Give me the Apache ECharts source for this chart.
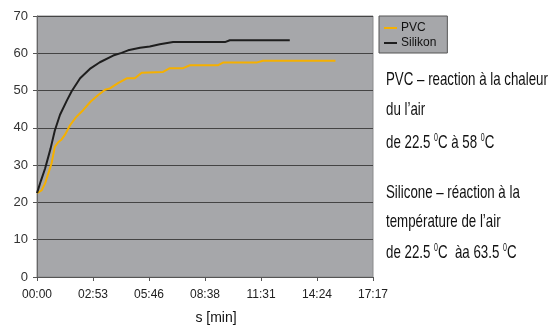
<!DOCTYPE html>
<html>
<head>
<meta charset="utf-8">
<script src="https://cdn.jsdelivr.net/npm/echarts@6/dist/echarts.min.js"></script>
<style>
  html, body { margin: 0; padding: 0; background: #fff; }
  #chart { width: 550px; height: 327px; }
</style>
</head>
<body>
<div id="chart"></div>
<script>
// time in seconds, temperature in degC
var pvcTimes = [0, 14, 25, 35, 45, 55, 66, 76, 86, 102, 120, 143, 165, 189, 210, 225, 250, 277, 302, 323, 389, 410, 451, 472, 559, 574, 677, 697, 921];
var pvcValues = [22.5, 23.2, 25.1, 27.8, 30.5, 34.9, 36.2, 36.9, 38.1, 40.7, 42.8, 44.8, 47.0, 48.8, 50.2, 50.6, 52.0, 53.3, 53.3, 54.8, 55.0, 56.0, 56.0, 56.8, 56.8, 57.5, 57.5, 58.0, 58.0];
var silTimes = [0, 12, 25, 42, 55, 71, 92, 107, 133, 163, 194, 235, 261, 281, 318, 348, 379, 420, 580, 595, 780];
var silValues = [22.5, 25.8, 29.1, 34.5, 39.3, 43.5, 47.3, 49.8, 53.3, 55.8, 57.6, 59.4, 60.1, 60.8, 61.5, 61.8, 62.4, 63.0, 63.0, 63.5, 63.5];
var seriesNames = ["PVC", "Silikon"];
var xTickStep = 172.8; // 0.002 day, as in the spreadsheet
var xMax = 1036.8;

var notes = [
    "PVC \u2013 reaction \u00e0 la chaleur",
    "du l\u2019air",
    "de 22.5 {s|0}C \u00e0 58 {s|0}C",
    "Silicone \u2013 r\u00e9action \u00e0 la",
    "temp\u00e9rature de l\u2019air",
    "de 22.5 {s|0}C  \u00e0a 63.5 {s|0}C"
];
var noteY = [80, 110, 143, 193, 222, 253];

function pairs(ts, vs) {
    return ts.map(function (t, i) { return [t, vs[i]]; });
}

function fmt(v) {
    var s = Math.round(v);
    var m = Math.floor(s / 60), r = s % 60;
    return (m < 10 ? "0" : "") + m + ":" + (r < 10 ? "0" : "") + r;
}

var chart = echarts.init(document.getElementById("chart"));

// condensed look: Arial-like font squeezed horizontally
var graphics = notes.map(function (txt, i) {
    return {
        type: "text",
        x: 386,
        y: noteY[i],
        scaleX: 0.7,
        style: {
            text: txt,
            x: 0,
            y: 0,
            align: "left",
            verticalAlign: "middle",
            fontSize: 19,
            fontFamily: "Liberation Sans",
            fill: "#111",
            rich: {
                s: { fontSize: 10, fontFamily: "Liberation Sans", verticalAlign: "top", fill: "#111" }
            }
        }
    };
});

var option = {
    backgroundColor: "#fff",
    animation: false,
    textStyle: { fontFamily: "Liberation Sans, Arial" },
    grid: {
        left: 37,
        top: 16,
        width: 336,
        height: 261,
        outerBoundsMode: "none",
        show: true,
        backgroundColor: "#a6a7aa",
        borderColor: "#8a8a8c",
        borderWidth: 1
    },
    legend: {
        data: seriesNames,
        orient: "vertical",
        left: 379,
        top: 16,
        padding: [6, 11, 4, 5],
        itemGap: 3,
        itemWidth: 13,
        itemHeight: 2,
        icon: "rect",
        backgroundColor: "#a6a7aa",
        borderColor: "#555",
        borderWidth: 1,
        borderRadius: 0,
        textStyle: { fontSize: 12, color: "#111", padding: [0, 0, 0, -1] }
    },
    xAxis: {
        type: "value",
        min: 0,
        max: xMax,
        interval: xTickStep,
        name: "s [min]",
        nameLocation: "middle",
        nameGap: 34,
        nameTextStyle: { fontSize: 14, color: "#111", padding: [0, 0, 0, 22] },
        axisLine: { lineStyle: { color: "#555" } },
        axisTick: { show: true, length: 4, lineStyle: { color: "#555" } },
        axisLabel: { fontSize: 12, color: "#222", margin: 12, formatter: fmt },
        splitLine: { show: false }
    },
    yAxis: {
        type: "value",
        min: 0,
        max: 70,
        interval: 10,
        axisLine: { show: true, lineStyle: { color: "#666" } },
        axisTick: { show: true, length: 4, lineStyle: { color: "#555" } },
        axisLabel: { fontSize: 13, color: "#333", margin: 9 },
        splitLine: { lineStyle: { color: "#444", width: 1 } }
    },
    series: [
        {
            name: seriesNames[0],
            type: "line",
            data: pairs(pvcTimes, pvcValues),
            showSymbol: false,
            color: "#f5b000",
            lineStyle: { width: 2, color: "#f5b000" }
        },
        {
            name: seriesNames[1],
            type: "line",
            data: pairs(silTimes, silValues),
            showSymbol: false,
            color: "#1e1e1e",
            lineStyle: { width: 2, color: "#1e1e1e" }
        }
    ],
    graphic: graphics
};

chart.setOption(option);
</script>
</body>
</html>
